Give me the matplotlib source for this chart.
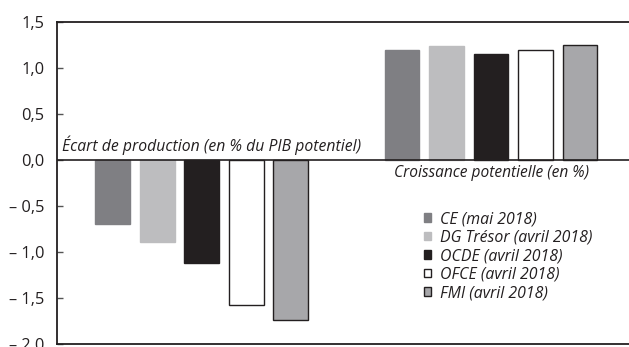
import matplotlib

matplotlib.use("Agg")
import matplotlib.pyplot as plt
from matplotlib.patches import Patch

plt.rcParams["font.family"] = ["Open Sans", "DejaVu Sans"]

sources = ["CE (mai 2018)", "DG Trésor (avril 2018)", "OCDE (avril 2018)",
           "OFCE (avril 2018)", "FMI (avril 2018)"]
ecart_production = [-0.70, -0.89, -1.12, -1.58, -1.74]
croissance_potentielle = [1.20, 1.24, 1.15, 1.20, 1.25]
group_labels = ["Écart de production (en % du PIB potentiel)",
                "Croissance potentielle (en %)"]
yticks = [1.5, 1.0, 0.5, 0.0, -0.5, -1.0, -1.5, -2.0]
ytick_labels = ["1,5", "1,0", "0,5", "0,0", "– 0,5", "– 1,0", "– 1,5", "– 2,0"]

faces = ["#7f7f83", "#bdbdbf", "#231f20", "#ffffff", "#a7a7aa"]
edges = ["#7f7f83", "#bdbdbf", "#231f20", "#231f20", "#231f20"]

W, H = 629, 347
fig = plt.figure(figsize=(W / 100, H / 100), dpi=100)
ax = fig.add_axes([57 / W, 3 / H, 572 / W, 322 / H])

# two groups of five bars, one bar per forecaster
group_gap = 6.5
width = 0.78
for g, values in enumerate([ecart_production, croissance_potentielle]):
    for i, v in enumerate(values):
        ax.bar(g * group_gap + i - 2, v, width=width, color=faces[i],
               edgecolor=edges[i], linewidth=1.0, zorder=2)

ax.set_xlim(-3.25, 9.6)
ax.set_ylim(-2.0, 1.5)
ax.axhline(0, color="#231f20", lw=1.2, zorder=3)

ax.set_xticks([])
ax.set_yticks(yticks)
ax.set_yticklabels(ytick_labels)
ax.tick_params(axis="y", direction="in", length=4, width=1, color="#555555",
               pad=9, labelsize=11.8, labelcolor="#231f20")
for side in ["left", "bottom", "top"]:
    ax.spines[side].set_linewidth(1.3)
    ax.spines[side].set_color("#231f20")
ax.spines["right"].set_visible(False)

ax.text(-3.13, 0.05, group_labels[0], style="italic", fontsize=11.3,
        ha="left", va="bottom", color="#231f20")
ax.text(group_gap, -0.05, group_labels[1], style="italic", fontsize=11.2,
        ha="center", va="top", color="#231f20")

handles = [Patch(facecolor=f, edgecolor=e, linewidth=1.0) for f, e in zip(faces, edges)]
ax.legend(handles, sources, loc="upper left", bbox_to_anchor=(424 / W, 1 - 211 / H),
          bbox_transform=fig.transFigure, frameon=False, prop={"style": "italic", "size": 11.4},
          handlelength=0.45, handleheight=0.45, handletextpad=0.55, labelspacing=0.16,
          borderaxespad=0, borderpad=0, labelcolor="#231f20")

fig.savefig("out.png", dpi=100)
